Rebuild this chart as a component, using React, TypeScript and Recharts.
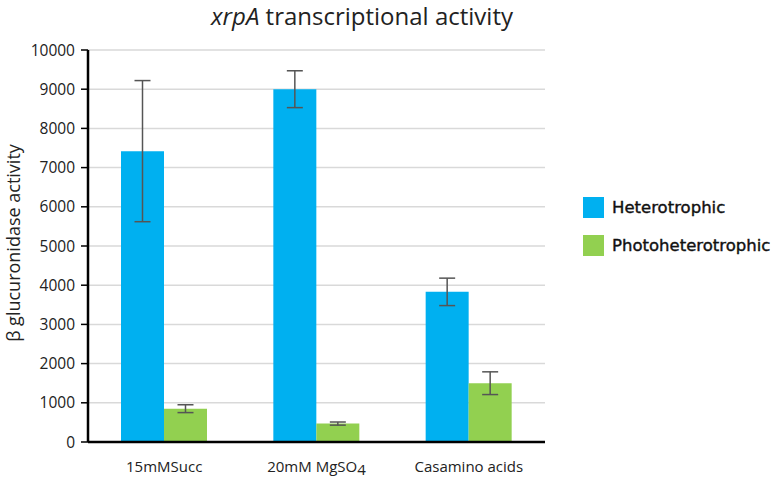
import { BarChart, Bar, XAxis, YAxis, CartesianGrid, ErrorBar } from 'recharts';

const categories = ['15mMSucc', '20mM MgSO4', 'Casamino acids'];
const heterotrophic = [7420, 9000, 3830];
const heterotrophicErr = [1800, 470, 350];
const photoheterotrophic = [850, 470, 1500];
const photoheterotrophicErr = [100, 40, 290];
const yTicks = [0, 1000, 2000, 3000, 4000, 5000, 6000, 7000, 8000, 9000, 10000];

const BLUE = '#00B0F0';
const GREEN = '#92D050';

const data = categories.map((name, i) => ({
  name,
  het: heterotrophic[i],
  hetErr: heterotrophicErr[i],
  photo: photoheterotrophic[i],
  photoErr: photoheterotrophicErr[i],
}));

const labelFont = '"Open Sans", "Noto Sans", sans-serif';

// category label; the 4 in MgSO4 sits a little lower
function CategoryTick(props: any) {
  const { x, y, payload } = props;
  const v: string = payload.value;
  const m = v.match(/^(.*SO)4$/);
  return (
    <text x={x} y={y + 22} textAnchor="middle" fontSize={15} fill="#222" fontFamily={labelFont}>
      {m ? (
        <>
          {m[1]}
          <tspan dy={3}>4</tspan>
        </>
      ) : (
        v
      )}
    </text>
  );
}

const legendItems = [
  { label: 'Heterotrophic', color: BLUE },
  { label: 'Photoheterotrophic', color: GREEN },
];

export default function App() {
  return (
    <div style={{ position: 'absolute', left: 0, top: 0, width: 771, height: 479, background: '#fff', overflow: 'hidden' }}>
      <div
        style={{
          position: 'absolute',
          top: -1,
          left: 362,
          transform: 'translateX(-50%)',
          whiteSpace: 'nowrap',
          fontFamily: labelFont,
          fontSize: 24,
          color: '#222',
        }}
      >
        <i>xrpA</i> transcriptional activity
      </div>
      <div
        style={{
          position: 'absolute',
          left: 13,
          top: 243,
          transform: 'translate(-50%, -50%) rotate(-90deg)',
          whiteSpace: 'nowrap',
          fontFamily: labelFont,
          fontSize: 18,
          color: '#222',
        }}
      >
        β glucuronidase activity
      </div>
      <div
        style={{
          position: 'absolute',
          left: 583,
          top: 188,
          fontFamily: '"DejaVu Sans", sans-serif',
          fontSize: 16.5,
          color: '#111',
          WebkitTextStroke: '0.4px #111',
        }}
      >
        {legendItems.map((it) => (
          <div key={it.label} style={{ display: 'flex', alignItems: 'center', height: 38, whiteSpace: 'nowrap' }}>
            <span style={{ width: 21, height: 21, background: it.color, display: 'inline-block', marginRight: 8 }} />
            {it.label}
          </div>
        ))}
      </div>
      <BarChart
        width={771}
        height={479}
        data={data}
        margin={{ top: 50, right: 226, bottom: 0, left: 0 }}
        barGap={0}
        barSize={43}
      >
        <CartesianGrid vertical={false} stroke="#d9d9d9" strokeWidth={1.5} />
        <XAxis
          dataKey="name"
          height={37}
          axisLine={{ stroke: '#000', strokeWidth: 2.5 }}
          tickLine={false}
          tick={<CategoryTick />}
          interval={0}
        />
        <YAxis
          width={88}
          domain={[0, 10000]}
          ticks={yTicks}
          interval={0}
          axisLine={{ stroke: '#000', strokeWidth: 2.5 }}
          tickLine={{ stroke: '#000', strokeWidth: 1.5 }}
          tickSize={7}
          tickMargin={6}
          tick={{ fontSize: 15.5, fill: '#222', fontFamily: labelFont }}
        />
        <Bar dataKey="het" name="Heterotrophic" fill={BLUE} isAnimationActive={false}>
          <ErrorBar dataKey="hetErr" width={8} stroke="#555" strokeWidth={1.5} />
        </Bar>
        <Bar dataKey="photo" name="Photoheterotrophic" fill={GREEN} isAnimationActive={false}>
          <ErrorBar dataKey="photoErr" width={8} stroke="#555" strokeWidth={1.5} />
        </Bar>
      </BarChart>
    </div>
  );
}
